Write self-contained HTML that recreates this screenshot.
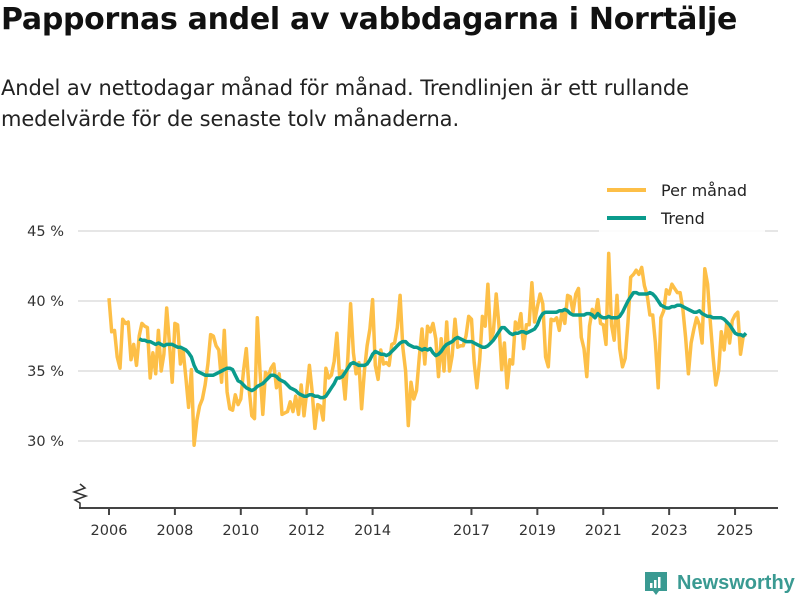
<!DOCTYPE html>
<html><head><meta charset="utf-8">
<style>
body{margin:0;background:#fff;font-family:"DejaVu Sans","Liberation Sans",sans-serif;}
#wrap{position:relative;width:800px;height:600px;overflow:hidden;}
h1{position:absolute;left:1px;top:2px;margin:0;font-size:30px;font-weight:bold;color:#111;letter-spacing:-0.3px;white-space:nowrap;}
p.sub{position:absolute;left:1px;top:73px;margin:0;font-size:21px;line-height:31px;color:#222;width:790px;white-space:nowrap;letter-spacing:-0.1px;}
</style></head><body>
<div id="wrap">
<h1>Pappornas andel av vabbdagarna i Norrtälje</h1>
<p class="sub">Andel av nettodagar månad för månad. Trendlinjen är ett rullande<br>medelvärde för de senaste tolv månaderna.</p>
<svg id="chart" width="800" height="600" style="position:absolute;left:0;top:0"></svg>
</div>
<script>
const yTicks=[30,35,40,45];
const yTickLabels=["30 %","35 %","40 %","45 %"];
const xTicks=[2006,2008,2010,2012,2014,2017,2019,2021,2023,2025];
const startYear=2006;
const monthly=[
40.2,37.8,37.9,36,35.2,38.7,38.4,38.5,35.8,36.9,35.4,37.5,
38.4,38.2,38.1,34.5,36.3,34.8,37.9,35,36.2,39.5,37,34.2,
38.4,38.3,35.5,36.5,34.5,32.4,35.1,29.7,31.5,32.5,33,34,
35.5,37.6,37.5,36.8,36.5,34.2,37.9,33.5,32.3,32.2,33.3,32.6,
33,35,36.6,33.8,31.8,31.6,38.8,35,31.9,34.9,34.6,35.2,
35.5,33.8,34.8,31.9,32,32.1,32.8,32.1,33.2,31.9,34,31.8,
33.5,35.4,33.5,30.9,32.6,32.5,31.5,35.2,34.5,34.7,35.7,37.7,
34.5,35,33,36,39.8,36.3,34.8,35.6,32.3,35,36.8,38,
40.1,35.4,34.4,36.5,35.5,35.6,35.4,36.9,37,38.1,40.4,36.7,
35,31.1,34.2,33,33.6,36,38,35.5,38.2,37.8,38.4,37.3,
34.6,37.3,35,38.5,35,36.1,38.7,36.7,36.8,36.8,37.5,38.9,
38.7,35.6,33.8,35.8,38.9,38.2,41.2,37.2,37.8,40.5,38.3,35.1,
37,33.8,35.8,35.5,38.5,38,39.1,36.6,38.3,38.3,41.3,38.5,
39.6,40.5,39.8,36,35.3,38.7,38.6,38.8,37.9,39.3,38.4,40.4,
40.3,39.2,40.5,40.9,37.4,36.6,34.6,38.2,39.4,38.9,40.1,38.4,
38.3,36.9,43.4,38.3,37.2,40.4,36.6,35.3,35.9,38.5,41.7,41.9,
42.2,41.9,42.4,41.1,40.4,39,39,37,33.8,38.8,39.3,40.8,
40.5,41.2,40.9,40.6,40.6,39.4,37.4,34.8,37,38,38.8,38.3,
37,42.3,41.2,38.5,36,34,35,37.8,36.5,38.5,37,38.6,
39,39.2,36.2,37.5,37.6];
const trendStart=11;
const trend=[37.3,
37.2,37.2,37.1,37.1,37.0,36.9,37.0,36.9,36.8,36.9,36.9,36.9,
36.8,36.7,36.7,36.6,36.5,36.3,36.0,35.4,35.0,34.9,34.8,34.7,
34.7,34.7,34.7,34.8,34.9,35.0,35.1,35.2,35.2,35.1,34.7,34.3,
34.2,34.0,33.8,33.7,33.6,33.7,33.9,34.0,34.1,34.3,34.5,34.7,
34.7,34.6,34.4,34.3,34.2,34.0,33.8,33.7,33.6,33.4,33.3,33.2,
33.2,33.3,33.3,33.2,33.2,33.1,33.1,33.2,33.5,33.8,34.1,34.5,
34.5,34.6,34.9,35.2,35.5,35.6,35.5,35.4,35.4,35.4,35.5,35.8,
36.2,36.4,36.3,36.2,36.2,36.1,36.2,36.4,36.6,36.8,37.0,37.1,
37.1,36.9,36.8,36.7,36.7,36.6,36.5,36.6,36.5,36.6,36.3,36.1,
36.2,36.4,36.7,36.9,37.0,37.1,37.3,37.4,37.3,37.2,37.1,37.1,
37.1,37.0,36.9,36.8,36.7,36.7,36.8,37.0,37.2,37.5,37.8,38.1,
38.1,37.9,37.7,37.6,37.7,37.7,37.8,37.8,37.7,37.8,37.9,38.0,
38.3,38.8,39.1,39.2,39.2,39.2,39.2,39.2,39.3,39.3,39.4,39.3,
39.1,39.0,39.0,39.0,39.0,39.0,39.1,39.1,39.0,38.8,39.1,38.9,
38.8,38.8,38.9,38.8,38.8,38.8,38.9,39.2,39.6,40.0,40.3,40.6,
40.6,40.5,40.5,40.5,40.5,40.6,40.5,40.3,40.0,39.7,39.6,39.5,
39.5,39.6,39.6,39.7,39.7,39.6,39.5,39.4,39.3,39.2,39.2,39.3,
39.1,39.0,38.9,38.9,38.8,38.8,38.8,38.8,38.7,38.5,38.3,38.0,
37.7,37.6,37.6,37.5,37.7];
const NS="http://www.w3.org/2000/svg";
const svg=document.getElementById('chart');
const FF='DejaVu Sans, Liberation Sans, sans-serif';
function xYear(y){return 109+(y-startYear)*32.95;}
function xIdx(i){return xYear(startYear+i/12);}
function yVal(v){return 441-(v-30)*14;}
function mk(tag,attrs,parent){const e=document.createElementNS(NS,tag);for(const k in attrs)e.setAttribute(k,attrs[k]);(parent||svg).appendChild(e);return e;}
yTicks.forEach((t,i)=>{
  const l=mk('line',{x1:78,x2:778,y1:yVal(t),y2:yVal(t),stroke:'#dddddd','stroke-width':1.5});
  
  
  const tx=mk('text',{x:64,y:yVal(t)+5,'text-anchor':'end','font-size':14.5,fill:'#333','font-family':FF});
  tx.textContent=yTickLabels[i];
  
  
});
const ax=mk('line',{x1:79,x2:778,y1:508,y2:508,stroke:'#444','stroke-width':2});


const zz=mk('path',{d:'M80,484 L85,488 L74,492 L86,496 L75,500 L80,503 L80,508',fill:'none',stroke:'#333','stroke-width':1.5});


xTicks.forEach(t=>{
  const x=xYear(t);
  const tk=mk('line',{x1:x,x2:x,y1:508,y2:515,stroke:'#444','stroke-width':2});
  
  
  const tx=mk('text',{x:x,y:535,'text-anchor':'middle','font-size':14.5,fill:'#333','font-family':FF});
  tx.textContent=String(t);
  
  
});
const pm=mk('polyline',{points:monthly.map((v,i)=>xIdx(i).toFixed(1)+','+yVal(v).toFixed(1)).join(' '),fill:'none',stroke:'#fdbf47','stroke-width':3.5,'stroke-linejoin':'round'});


const tr=mk('polyline',{points:trend.map((v,i)=>xIdx(i+trendStart).toFixed(1)+','+yVal(v).toFixed(1)).join(' '),fill:'none',stroke:'#0a9b8c','stroke-width':3.5,'stroke-linejoin':'round'});


const lb=mk('rect',{x:599,y:172,width:166,height:60,fill:'#fff','fill-opacity':0.85});


[['Per månad','#fdbf47',190],['Trend','#0a9b8c',218]].forEach(([n,c,y])=>{
  const l=mk('line',{x1:607,x2:646,y1:y,y2:y,stroke:c,'stroke-width':4});
  
  
  const t=mk('text',{x:661,y:y+6,'font-size':16,fill:'#222','font-family':FF});
  t.textContent=n;
  
  
});
const g=mk('g',{});


mk('path',{d:'M645,572 h22 v19 h-8 l-3,4 l-3,-4 h-8 z',fill:'#3a9a92'},g);
mk('rect',{x:650,y:583,width:2.5,height:5,fill:'#fff'},g);
mk('rect',{x:654,y:580,width:2.5,height:8,fill:'#fff'},g);
mk('rect',{x:658,y:577,width:2.5,height:11,fill:'#fff'},g);
const lt=mk('text',{x:677,y:589,'font-size':20,'font-weight':'bold',fill:'#3a9a92','font-family':'Liberation Sans, sans-serif'},g);
lt.textContent='Newsworthy';
</script>
</body></html>
